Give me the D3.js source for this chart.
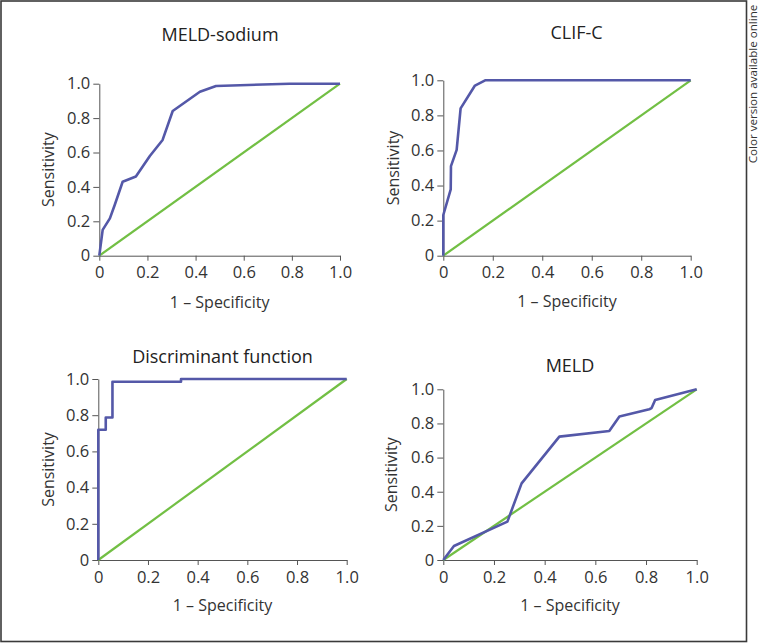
<!DOCTYPE html>
<html>
<head>
<meta charset="utf-8">
<script src="https://cdn.jsdelivr.net/npm/d3@7"></script>
<style>
  body { margin: 0; background: #fff; }
  svg { font-family: "Open Sans", sans-serif; }
</style>
</head>
<body>
<script>
// ROC curves: [1 - specificity, sensitivity]
const titles = ["MELD-sodium", "CLIF-C", "Discriminant function", "MELD"];
const tickValues = [0, 0.2, 0.4, 0.6, 0.8, 1.0];
const tickLabels = ["0", "0.2", "0.4", "0.6", "0.8", "1.0"];

const meldSodium = [[0, 0], [0.014, 0.15], [0.044, 0.217], [0.064, 0.295], [0.097, 0.43],
  [0.152, 0.46], [0.21, 0.58], [0.263, 0.673], [0.305, 0.841], [0.418, 0.953],
  [0.485, 0.987], [0.79, 1.0], [1, 1]];
const clifC = [[0, 0], [0, 0.232], [0.03, 0.378], [0.031, 0.511], [0.054, 0.603],
  [0.07, 0.84], [0.128, 0.97], [0.169, 1.0], [1, 1]];
const discriminant = [[0, 0], [0, 0.72], [0.03, 0.72], [0.03, 0.787], [0.057, 0.787],
  [0.057, 0.985], [0.333, 0.985], [0.333, 1.0], [1, 1]];
const meld = [[0, 0], [0.042, 0.082], [0.253, 0.225], [0.309, 0.449], [0.458, 0.723],
  [0.655, 0.756], [0.695, 0.84], [0.813, 0.883], [0.822, 0.89], [0.836, 0.9375], [1, 1]];
const chance = [[0, 0], [1, 1]];

const curves = [meldSodium, clifC, discriminant, meld];

// where each small plot sits on the page
const layout = [
  {x0: 99.3, x1: 340, yTop: 83.7, yBot: 255.7, tx: 220, ty: 35, xt: 302, yt: 48.3},
  {x0: 443.3, x1: 690.7, yTop: 80.3, yBot: 255.7, tx: 576.5, ty: 33, xt: 301, yt: 393},
  {x0: 98.3, x1: 346.7, yTop: 379, yBot: 560, tx: 222.5, ty: 356.7, xt: 605, yt: 48.3},
  {x0: 443.3, x1: 696.7, yTop: 389.3, yBot: 560, tx: 570, ty: 366, xt: 605, yt: 391.7}
];

const svg = d3.select("body").append("svg")
  .attr("width", 761)
  .attr("height", 643);

// outer frame
svg.append("rect")
  .attr("x", 1).attr("y", 1)
  .attr("width", 745.5).attr("height", 640.5)
  .attr("fill", "none")
  .attr("stroke", "#3a3a3a")
  .attr("stroke-width", 1.6);

svg.append("text")
  .attr("transform", "translate(753, 84) rotate(-90)")
  .attr("text-anchor", "middle")
  .attr("dy", "0.32em")
  .attr("font-size", 11.6)
  .attr("fill", "#333")
  .text("Color version available online");

curves.forEach((curve, i) => {
  const l = layout[i];

  const xScale = d3.scaleLinear().domain([0, 1]).range([l.x0, l.x1]);
  const yScale = d3.scaleLinear().domain([0, 1]).range([l.yBot, l.yTop]);

  const xAxis = d3.axisBottom(xScale)
    .tickValues(tickValues)
    .tickFormat((d, j) => tickLabels[j])
    .tickSize(5).tickPadding(6).tickSizeOuter(0);
  const yAxis = d3.axisLeft(yScale)
    .tickValues(tickValues)
    .tickFormat((d, j) => tickLabels[j])
    .tickSize(6).tickPadding(3).tickSizeOuter(0);

  const g = svg.append("g");

  const gx = g.append("g")
    .attr("transform", `translate(0, ${l.yBot})`)
    .call(xAxis);
  const gy = g.append("g")
    .attr("transform", `translate(${l.x0}, 0)`)
    .call(yAxis);

  [gx, gy].forEach(ax => {
    ax.attr("font-size", 16.5).attr("font-family", "Open Sans");
    ax.selectAll("path, line").attr("stroke", "#555").attr("stroke-width", 1);
    ax.selectAll("text").attr("fill", "#333");
  });

  const line = d3.line()
    .x(d => xScale(d[0]))
    .y(d => yScale(d[1]));

  g.append("path")
    .datum(chance)
    .attr("fill", "none")
    .attr("stroke", "#72bf44")
    .attr("stroke-width", 2.2)
    .attr("d", line);

  g.append("path")
    .datum(curve)
    .attr("fill", "none")
    .attr("stroke", "#5458a8")
    .attr("stroke-width", 2.6)
    .attr("stroke-linejoin", "round")
    .attr("d", line);

  g.append("text")
    .attr("x", l.tx).attr("y", l.ty)
    .attr("dy", "0.35em")
    .attr("text-anchor", "middle")
    .attr("font-size", 18)
    .attr("fill", "#222")
    .text(titles[i]);

  g.append("text")
    .attr("x", (l.x0 + l.x1) / 2).attr("y", l.xt)
    .attr("dy", "0.35em")
    .attr("text-anchor", "middle")
    .attr("font-size", 16)
    .attr("fill", "#333")
    .text("1 – Specificity");

  g.append("text")
    .attr("transform", `translate(${l.yt}, ${(l.yTop + l.yBot) / 2}) rotate(-90)`)
    .attr("dy", "0.35em")
    .attr("text-anchor", "middle")
    .attr("font-size", 16)
    .attr("fill", "#333")
    .text("Sensitivity");
});
</script>
</body>
</html>
